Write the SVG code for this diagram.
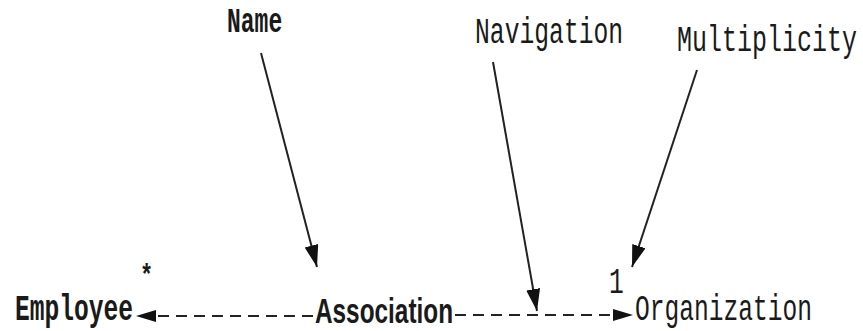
<svg xmlns="http://www.w3.org/2000/svg" width="863" height="331" viewBox="0 0 863 331">
  <style>
    .mono { font-family: "Liberation Mono", "Courier New", monospace; fill: #1a1a1a; }
    .b { font-weight: bold; }
    .sans { font-family: "Liberation Sans", Arial, sans-serif; fill: #1a1a1a; }
    .ptr { stroke: #222; stroke-width: 2; fill: none; }
    .dash { stroke: #222; stroke-width: 2; fill: none; stroke-dasharray: 11 7; }
  </style>
  <defs>
    <marker id="head" markerUnits="userSpaceOnUse" markerWidth="24" markerHeight="16" refX="22" refY="7" orient="auto">
      <path d="M0,0 L22,7 L0,14 Z" fill="#111"/>
    </marker>
    <marker id="headS" markerUnits="userSpaceOnUse" markerWidth="22" markerHeight="14" refX="20" refY="6" orient="auto">
      <path d="M0,0 L20,6 L0,12 Z" fill="#111"/>
    </marker>
  </defs>
  <rect width="863" height="331" fill="#fff"/>

  <g id="connectors">
    <line class="ptr" x1="261" y1="53" x2="317" y2="267" marker-end="url(#head)"/>
    <line class="ptr" x1="493" y1="62" x2="537" y2="311" marker-end="url(#head)"/>
    <line class="ptr" x1="697" y1="70" x2="632" y2="267" marker-end="url(#head)"/>
    <line class="dash" x1="313" y1="316" x2="136" y2="316" marker-end="url(#headS)"/>
    <line class="dash" x1="455" y1="315" x2="633" y2="315" marker-end="url(#headS)"/>
  </g>

  <g id="label-name">
    <text class="mono b" font-size="23" transform="translate(227,32) scale(1,1.5)">Name</text>
  </g>
  <g id="label-navigation">
    <text class="mono" font-size="24.7" transform="translate(475,43) scale(1,1.5)">Navigation</text>
  </g>
  <g id="label-multiplicity">
    <text class="mono" font-size="25" transform="translate(677,51) scale(1,1.5)">Multiplicity</text>
  </g>
  <g id="employee">
    <text class="mono b" font-size="24.6" transform="translate(15,320) scale(1,1.5)">Employee</text>
    <text class="mono b" font-size="22" transform="translate(140,285) scale(1,1.3)">*</text>
  </g>
  <g id="association">
    <text class="sans" font-size="31" font-weight="bold" textLength="138" lengthAdjust="spacingAndGlyphs" transform="translate(315,323) scale(1,1.12)">Association</text>
  </g>
  <g id="organization">
    <text class="mono" font-size="24.6" transform="translate(635,320) scale(1,1.5)">Organization</text>
    <text class="mono" font-size="24.6" transform="translate(609,293) scale(1,1.5)">1</text>
  </g>
</svg>
